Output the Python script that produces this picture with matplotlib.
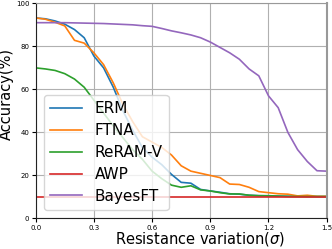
import numpy as np
import matplotlib
matplotlib.use("Agg")
import matplotlib.pyplot as plt

sigma = [0.0, 0.05, 0.1, 0.15, 0.2, 0.25, 0.3, 0.35, 0.4, 0.45, 0.5,
         0.55, 0.6, 0.65, 0.7, 0.75, 0.8, 0.85, 0.9, 0.95, 1.0,
         1.05, 1.1, 1.15, 1.2, 1.25, 1.3, 1.35, 1.4, 1.45, 1.5]

erm = [93.2, 92.8, 91.8, 90.3, 87.8, 84.0, 75.5, 70.0, 61.0, 50.0, 41.0,
       33.0, 28.5, 25.0, 20.5, 16.8, 16.4, 13.5, 12.8, 12.2, 11.5,
       11.3, 10.8, 10.6, 10.5, 10.4, 10.3, 10.3, 10.2, 10.2, 10.2]

ftna = [93.2, 92.6, 91.2, 89.5, 82.8, 81.5, 77.0, 71.5, 63.0, 53.0, 45.0,
        38.0, 35.5, 33.0, 29.5, 24.5, 22.0, 21.0, 20.0, 19.0, 16.0,
        15.8, 14.5, 12.5, 12.0, 11.5, 11.3, 10.5, 10.8, 10.3, 10.3]

reram_v = [70.0, 69.5, 68.8, 67.3, 64.8, 61.0, 55.0, 49.0, 43.0, 37.5, 32.0,
           27.5, 22.0, 18.5, 15.5, 14.5, 15.2, 13.3, 12.8, 12.0, 11.4,
           11.4, 10.8, 10.6, 10.6, 10.4, 10.3, 10.2, 10.2, 10.2, 10.2]

awp = [10.0] * 31

bayesft = [91.0, 91.0, 91.0, 91.0, 90.9, 90.8, 90.7, 90.6, 90.4, 90.2, 90.0,
           89.6, 89.3, 88.3, 87.2, 86.3, 85.3, 84.0, 82.0, 79.5, 77.0,
           74.0, 69.5, 66.3, 57.0, 51.5, 40.0, 32.0, 26.5, 22.2, 22.0]

series = [("ERM", erm, "#1f77b4"), ("FTNA", ftna, "#ff7f0e"),
          ("ReRAM-V", reram_v, "#2ca02c"), ("AWP", awp, "#d62728"),
          ("BayesFT", bayesft, "#9467bd")]

xticks = [0.0, 0.3, 0.6, 0.9, 1.2, 1.5]
yticks = [0, 20, 40, 60, 80, 100]

fig = plt.figure(figsize=(3.32, 2.49), dpi=100)
ax = fig.add_axes([0.1075, 0.1225, 0.8765, 0.8642])

for name, vals, col in series:
    ax.plot(sigma, vals, color=col, lw=1.2, label=name)

ax.set_xlim(0, 1.5)
ax.set_ylim(0, 100)
ax.set_xticks(xticks)
ax.set_yticks(yticks)
ax.set_xticklabels([f"{t:.1f}" for t in xticks])
ax.tick_params(labelsize=5, length=3, width=0.8, pad=1.5)
ax.grid(True, color="#b0b0b0", lw=0.8)
ax.set_axisbelow(True)
for s in ["top", "right"]:
    ax.spines[s].set_color("#999999")
ax.spines["right"].set_linewidth(1.5)
for s in ["left", "bottom"]:
    ax.spines[s].set_color("#222222")

fig.text(0.6025, 0.042, r"Resistance variation($\sigma$)", fontsize=10.5,
         ha="center", va="center")
fig.text(0.02, 0.622, "Accuracy(%)", fontsize=10.5, rotation=90,
         ha="center", va="center")

leg = ax.legend(loc="lower left", bbox_to_anchor=(0.0285, 0.04),
                borderaxespad=0, fontsize=11, labelspacing=0.45,
                handlelength=2.1, framealpha=0.8)

fig.savefig("out.png", dpi=100)
